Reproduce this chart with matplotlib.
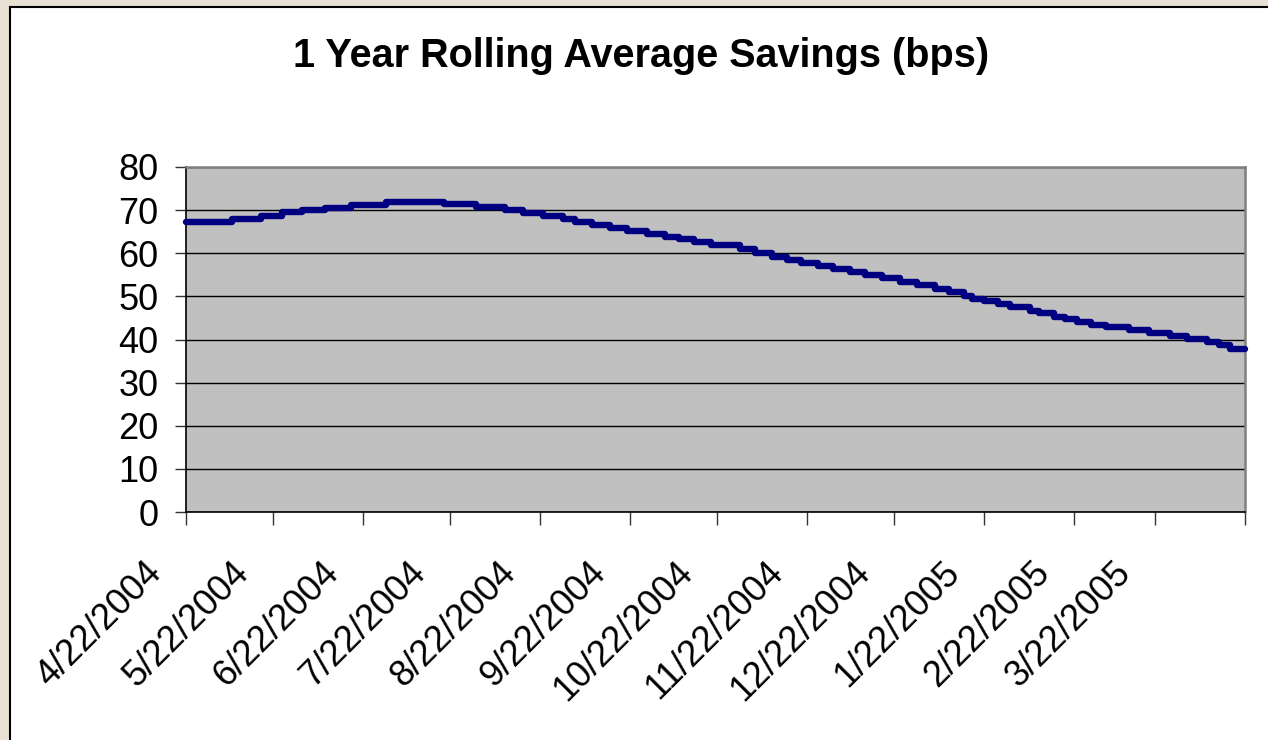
import pandas as pd
import matplotlib
matplotlib.use("Agg")
import matplotlib.pyplot as plt
import matplotlib.transforms as mtransforms
from matplotlib.patches import Rectangle

plt.rcParams['font.family'] = ['Liberation Sans', 'DejaVu Sans']

# step changes of the rolling average (date the new level starts, bps)
step_dates = [
    "2004-04-22", "2004-05-08", "2004-05-18", "2004-05-25", "2004-06-01",
    "2004-06-09", "2004-06-18", "2004-06-30", "2004-07-20", "2004-07-31",
    "2004-08-10", "2004-08-16", "2004-08-23", "2004-08-30", "2004-09-03",
    "2004-09-09", "2004-09-15", "2004-09-21", "2004-09-28", "2004-10-04",
    "2004-10-09", "2004-10-14", "2004-10-20", "2004-10-30", "2004-11-04",
    "2004-11-10", "2004-11-15", "2004-11-20", "2004-11-26", "2004-12-01",
    "2004-12-07", "2004-12-12", "2004-12-18", "2004-12-24", "2004-12-30",
    "2005-01-05", "2005-01-10", "2005-01-15", "2005-01-18", "2005-01-22",
    "2005-01-27", "2005-01-31", "2005-02-07", "2005-02-10", "2005-02-15",
    "2005-02-19", "2005-02-23", "2005-02-28", "2005-03-05", "2005-03-13",
    "2005-03-20", "2005-03-27", "2005-04-02", "2005-04-09", "2005-04-13",
    "2005-04-17", "2005-04-22",
]
step_values = [
    67.3, 68.0, 68.7, 69.5, 70.0,
    70.6, 71.3, 72.0, 71.4, 70.7,
    70.0, 69.3, 68.6, 67.9, 67.2,
    66.6, 65.9, 65.2, 64.5, 63.8,
    63.2, 62.5, 61.8, 60.9, 60.1,
    59.2, 58.4, 57.8, 57.1, 56.3,
    55.7, 55.0, 54.2, 53.4, 52.6,
    51.8, 50.9, 50.2, 49.5, 48.9,
    48.2, 47.5, 46.7, 46.1, 45.3,
    44.7, 44.1, 43.4, 42.8, 42.2,
    41.4, 40.8, 40.1, 39.4, 38.7,
    37.9, 37.9,
]

tick_dates = ["2004-04-22", "2004-05-22", "2004-06-22", "2004-07-22",
              "2004-08-22", "2004-09-22", "2004-10-22", "2004-11-22",
              "2004-12-22", "2005-01-22", "2005-02-22", "2005-03-22",
              "2005-04-22"]
tick_labels = ["4/22/2004", "5/22/2004", "6/22/2004", "7/22/2004",
               "8/22/2004", "9/22/2004", "10/22/2004", "11/22/2004",
               "12/22/2004", "1/22/2005", "2/22/2005", "3/22/2005", ""]

title = "1 Year Rolling Average Savings (bps)"

fig = plt.figure(figsize=(12.68, 7.40), dpi=100)
fig.patch.set_facecolor("#E8E0D2")

# white chart box with black border
fig.patches.append(Rectangle((10 / 1268, -0.05), 1.1, 1 - 7 / 740 + 0.05,
                             transform=fig.transFigure, facecolor="white",
                             edgecolor="black", linewidth=1.5, zorder=-5))

ax = fig.add_axes([186 / 1268, 1 - 512 / 740, 1059 / 1268, 345 / 740])
ax.set_zorder(1)
ax.set_facecolor("#C0C0C0")

x = pd.to_datetime(step_dates)
ax.plot(x, step_values, drawstyle="steps-post", color="#000080",
        linewidth=4.6, solid_joinstyle="round", solid_capstyle="round",
        zorder=3, clip_on=False)

ax.set_ylim(0, 80)
ax.set_yticks(range(0, 81, 10))
ax.set_xlim(pd.Timestamp(tick_dates[0]), pd.Timestamp(tick_dates[-1]))
ax.set_xticks(pd.to_datetime(tick_dates))
ax.set_xticklabels(tick_labels, rotation=45, ha="right", va="top")

ax.grid(axis="y", color="black", linewidth=1)
ax.set_axisbelow(True)

ax.tick_params(axis="y", length=8, width=1, pad=12, labelsize=26,
               direction="out", color="#333333")
ax.tick_params(axis="x", length=9, width=1, pad=22, labelsize=26,
               direction="out", color="#333333")

offset = mtransforms.ScaledTranslation(-17 / 100, 0, fig.dpi_scale_trans)
for lbl in ax.get_xticklabels():
    lbl.set_transform(lbl.get_transform() + offset)

for side in ["left", "bottom"]:
    ax.spines[side].set_color("black")
    ax.spines[side].set_linewidth(1.2)
for side in ["top", "right"]:
    ax.spines[side].set_color("#808080")
    ax.spines[side].set_linewidth(1.8)

fig.text(641 / 1268, 1 - 56 / 740, title, ha="center", va="center",
         fontsize=28.5, fontweight="bold")

fig.savefig("out.png", dpi=100, facecolor=fig.get_facecolor())
